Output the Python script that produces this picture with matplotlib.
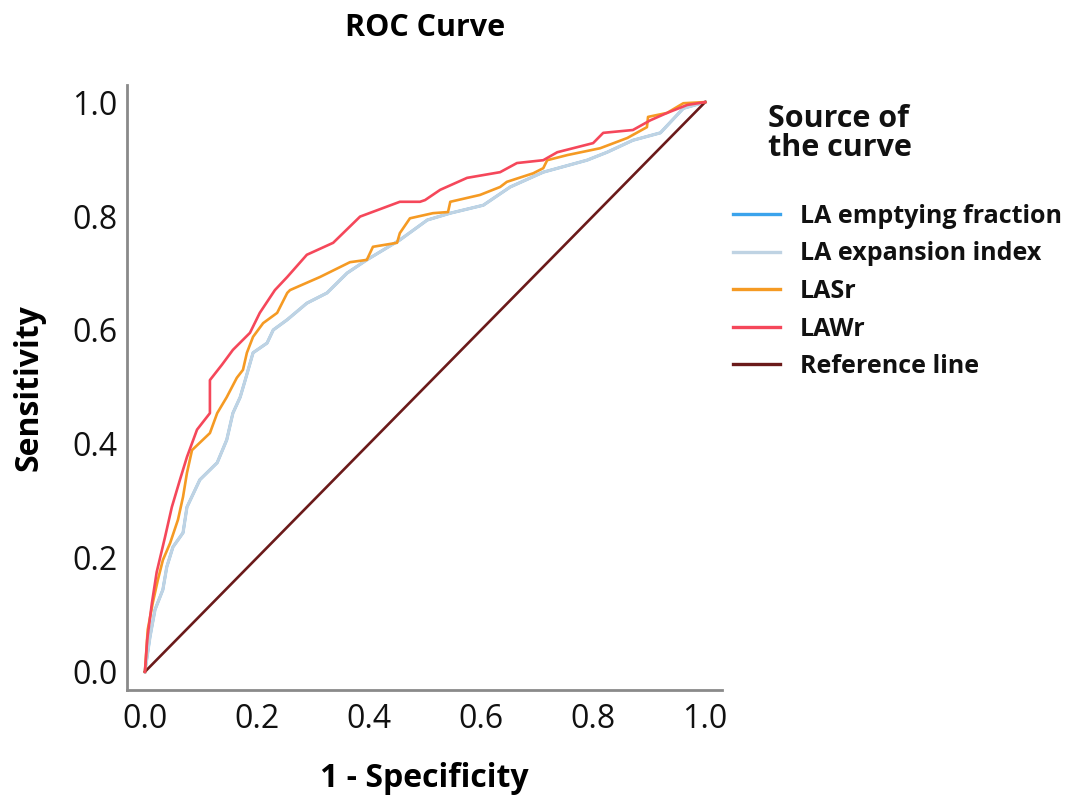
import matplotlib
matplotlib.use("Agg")
import matplotlib.pyplot as plt
from matplotlib.lines import Line2D

# ---- data ----
lawr_fpr = [0, 0.004, 0.0125, 0.021, 0.036, 0.048, 0.0625, 0.075, 0.093, 0.116, 0.116, 0.1375,
            0.157, 0.1875, 0.205, 0.232, 0.254, 0.289, 0.336, 0.384, 0.455, 0.491, 0.5, 0.527,
            0.575, 0.634, 0.664, 0.711, 0.736, 0.8, 0.818, 0.871, 0.902, 0.932, 0.968, 1.0]
lawr_tpr = [0, 0.056, 0.121, 0.175, 0.237, 0.289, 0.337, 0.377, 0.425, 0.454, 0.512, 0.539,
            0.565, 0.595, 0.63, 0.67, 0.693, 0.732, 0.753, 0.799, 0.825, 0.825, 0.828, 0.846,
            0.867, 0.877, 0.893, 0.898, 0.912, 0.928, 0.946, 0.951, 0.968, 0.981, 0.995, 1.0]

lasr_fpr = [0, 0.005, 0.014, 0.023, 0.032, 0.045, 0.059, 0.068, 0.075, 0.084, 0.116, 0.129,
            0.146, 0.164, 0.175, 0.182, 0.193, 0.211, 0.236, 0.254, 0.259, 0.3125, 0.366, 0.396,
            0.407, 0.45, 0.455, 0.473, 0.514, 0.541, 0.545, 0.598, 0.634, 0.646, 0.693, 0.711,
            0.718, 0.754, 0.8125, 0.861, 0.896, 0.898, 0.932, 0.961, 1.0]
lasr_tpr = [0, 0.074, 0.121, 0.161, 0.196, 0.226, 0.267, 0.307, 0.349, 0.389, 0.419, 0.454,
            0.482, 0.516, 0.53, 0.56, 0.588, 0.612, 0.63, 0.665, 0.67, 0.693, 0.719, 0.723,
            0.746, 0.753, 0.77, 0.796, 0.805, 0.807, 0.825, 0.837, 0.851, 0.86, 0.875, 0.884,
            0.898, 0.907, 0.919, 0.937, 0.956, 0.974, 0.981, 0.998, 1.0]

laei_fpr = [0, 0.009, 0.018, 0.032, 0.039, 0.05, 0.068, 0.075, 0.098, 0.129, 0.146, 0.157,
            0.17, 0.179, 0.193, 0.218, 0.229, 0.254, 0.289, 0.325, 0.361, 0.396, 0.455, 0.504,
            0.545, 0.604, 0.652, 0.711, 0.789, 0.825, 0.871, 0.92, 0.961, 1.0]
laei_tpr = [0, 0.061, 0.109, 0.144, 0.184, 0.219, 0.244, 0.289, 0.337, 0.367, 0.407, 0.454,
            0.482, 0.512, 0.56, 0.577, 0.6, 0.618, 0.647, 0.665, 0.7, 0.723, 0.758, 0.793,
            0.805, 0.819, 0.851, 0.877, 0.898, 0.912, 0.933, 0.946, 0.989, 1.0]

# LA emptying fraction is hidden beneath LA expansion index in the reference
laef_fpr = laei_fpr
laef_tpr = laei_tpr

ref_x = [0, 1]
ref_y = [0, 1]

ticks = [0.0, 0.2, 0.4, 0.6, 0.8, 1.0]
tick_labels = ["0.0", "0.2", "0.4", "0.6", "0.8", "1.0"]

labels = ["LA emptying fraction", "LA expansion index", "LASr", "LAWr", "Reference line"]
colors = ["#3ba3ec", "#bfd3e3", "#f59a23", "#f5475a", "#6b1a1a"]

# ---- figure ----
plt.rcParams["font.family"] = ["Open Sans", "DejaVu Sans"]
W, H = 1067, 796
fig = plt.figure(figsize=(W / 100, H / 100), dpi=100)
ax = fig.add_axes([127 / W, 1 - 690 / H, (722 - 127) / W, (690 - 85) / H])

lw = 1.9
ax.plot(laef_fpr, laef_tpr, color=colors[0], lw=lw, zorder=2)
ax.plot(laei_fpr, laei_tpr, color=colors[1], lw=lw + 0.4, zorder=3)
ax.plot(lasr_fpr, lasr_tpr, color=colors[2], lw=lw, zorder=4)
ax.plot(lawr_fpr, lawr_tpr, color=colors[3], lw=lw, zorder=5)
ax.plot(ref_x, ref_y, color=colors[4], lw=lw, zorder=3)

ax.set_xlim(-0.032, 1.03)
ax.set_ylim(-0.032, 1.03)
ax.set_xticks(ticks)
ax.set_xticklabels(tick_labels)
ax.set_yticks(ticks)
ax.set_yticklabels(tick_labels)
ax.tick_params(length=0, labelsize=23, colors="#111111")
ax.tick_params(axis="y", pad=7)
ax.tick_params(axis="x", pad=9)
for s in ["top", "right"]:
    ax.spines[s].set_visible(False)
for s in ["left", "bottom"]:
    ax.spines[s].set_color("#8a8a8a")
    ax.spines[s].set_linewidth(2.0)

ax.set_xlabel("1 - Specificity", fontsize=23, fontweight="bold", labelpad=19)
ax.set_ylabel("Sensitivity", fontsize=23, fontweight="bold", labelpad=19)

fig.text(425 / W, 1 - 28 / H, "ROC Curve", ha="center", va="center",
         fontsize=22, fontweight="bold")

# legend
fig.text(768 / W, 1 - 104 / H, "Source of\nthe curve", ha="left", va="top",
         fontsize=22, fontweight="bold", linespacing=0.95, color="#111111")
handles = [Line2D([0], [0], color=c, lw=2.4) for c in colors]
leg = fig.legend(handles, labels, loc="upper left",
                 bbox_to_anchor=(733 / W, 1 - 204 / H), frameon=False,
                 prop={"size": 18, "weight": "bold"}, handlelength=1.88,
                 handletextpad=0.8, labelspacing=0.5, borderpad=0, borderaxespad=0)
for t in leg.get_texts():
    t.set_color("#111111")

fig.savefig("out.png", dpi=100)
